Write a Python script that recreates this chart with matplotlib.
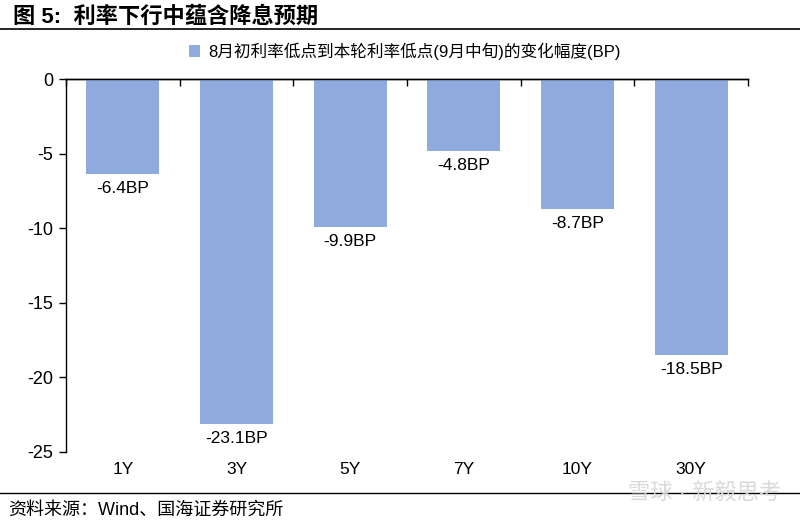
import matplotlib
matplotlib.use("Agg")
import matplotlib.pyplot as plt
import numpy as np

categories = ["1Y", "3Y", "5Y", "7Y", "10Y", "30Y"]
values = [-6.4, -23.1, -9.9, -4.8, -8.7, -18.5]
value_labels = ["-6.4BP", "-23.1BP", "-9.9BP", "-4.8BP", "-8.7BP", "-18.5BP"]
yticks = [0, -5, -10, -15, -20, -25]
legend_label = "8月初利率低点到本轮利率低点(9月中旬)的变化幅度(BP)"
title = "图 5:  利率下行中蕴含降息预期"
source = "资料来源：Wind、国海证券研究所"
watermark = "雪球 · 新毅思考"

plt.rcParams['font.family'] = ['Liberation Sans', 'Noto Sans CJK SC', 'DejaVu Sans']

fig = plt.figure(figsize=(8, 5.24), dpi=100)
ax = fig.add_axes([66/800, 1-452/524, (748-66)/800, (452-79)/524])

x = np.arange(len(categories))
color = '#8FAADC'
bars = ax.bar(x, values, width=0.64, color=color, label=legend_label, zorder=2)

for xi, v, lab in zip(x, values, value_labels):
    ax.annotate(lab, (xi, v), xytext=(0, -5), textcoords='offset points',
                ha='center', va='top', fontsize=12.5, color='black')

ax.set_xlim(-0.5, len(categories)-0.5)
ax.set_ylim(-25, 0)
ax.set_yticks(yticks)
ax.set_yticklabels([str(t) for t in yticks], fontsize=13)
ax.tick_params(axis='y', direction='out', length=5, width=1, pad=4)

ax.set_xticks(x)
ax.set_xticklabels(categories, fontsize=12.5)
ax.tick_params(axis='x', length=0, pad=7)

for s in ['right', 'bottom']:
    ax.spines[s].set_visible(False)
ax.spines['left'].set_linewidth(1)
ax.spines['top'].set_linewidth(1)

sec = ax.secondary_xaxis('top')
sec.set_xticks(np.arange(len(categories)+1) - 0.5)
sec.set_xticklabels([])
sec.tick_params(direction='in', length=5, width=1)
sec.spines['top'].set_linewidth(1)

leg = fig.legend(handles=[bars], labels=[legend_label], loc='center',
                 bbox_to_anchor=(405/800, 1-51/524), frameon=False,
                 fontsize=12, handlelength=0.7, handleheight=0.7,
                 handletextpad=0.5)

fig.text(13/800, 1-17/524, title, fontsize=16, fontweight='bold',
         ha='left', va='center')
fig.add_artist(plt.Line2D([0, 1], [1-29/524, 1-29/524], color='black', lw=1.2,
                          transform=fig.transFigure))
fig.add_artist(plt.Line2D([0, 1], [1-493/524, 1-493/524], color='black', lw=1.0,
                          transform=fig.transFigure))
fig.text(8/800, 1-510/524, source, fontsize=13, ha='left', va='center')
fig.text(705/800, 1-493/524, watermark, fontsize=16, ha='center', va='center',
         color='#d9d9d9', zorder=5)

fig.savefig("out.png", dpi=100)
